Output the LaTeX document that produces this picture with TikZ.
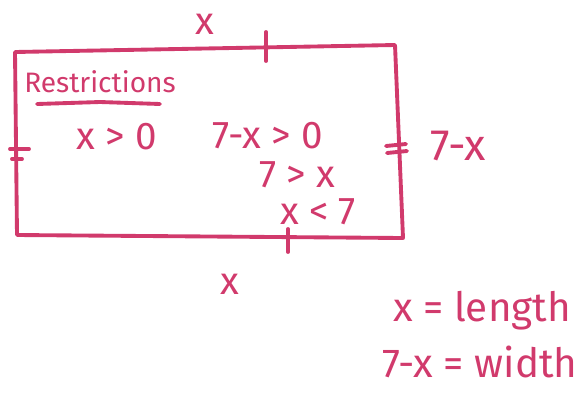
\documentclass[tikz,border=0pt]{standalone}
\usepackage{fontspec}
\setmainfont{Fira Sans}
\usepackage{xcolor}
\definecolor{inkpink}{HTML}{D13A6C}

\begin{document}
\begin{tikzpicture}[x=0.02cm, y=-0.02cm,
    pen/.style={draw=inkpink, line width=2.2pt, line cap=round, line join=round},
    hand/.style={text=inkpink, inner sep=0pt, font=\fontsize{22}{25}\selectfont},
    handsmall/.style={text=inkpink, inner sep=0pt, font=\fontsize{16}{20}\selectfont}]
    \useasboundingbox (0,0) rectangle (584,393);

    % rectangle corners
    \coordinate (tl) at (15,52);
    \coordinate (tr) at (395,45);
    \coordinate (br) at (403,238);
    \coordinate (bl) at (17,235);
    \draw[pen] (tl) -- (tr) -- (br) -- (bl) -- cycle;

    % equal-side marks
    \draw[pen] (266,32) -- (266,61);
    \draw[pen] (288,229) -- (288,252);
    \draw[pen] (10,149) -- (29,149);
    \draw[pen] (12,159) -- (22,159);
    \draw[pen] (386,146) -- (406,144);
    \draw[pen] (387,153) -- (407,151);

    % side labels
    \node[hand] (topx) at (205,24) {x};
    \node[hand] (botx) at (230,284) {x};
    \node[hand, font=\fontsize{25}{28}\selectfont] (rightw) at (458,146) {7-x};

    % restrictions
    \node[handsmall] (restr) at (100,82) {Restrictions};
    \draw[pen] (37,104) -- (100,102) -- (160,104);
    \node[hand] (r1) at (117,137) {x > 0};
    \node[hand] (r2) at (268,136) {7-x > 0};
    \node[hand] (r3) at (297,175) {7 > x};
    \node[hand] (r4) at (318,212) {x < 7};

    % meaning of x
    \node[hand, font=\fontsize{23}{26}\selectfont] (lenx) at (482,311) {x = length};
    \node[hand, font=\fontsize{23}{26}\selectfont] (widx) at (480,362) {7-x = width};
\end{tikzpicture}
\end{document}
